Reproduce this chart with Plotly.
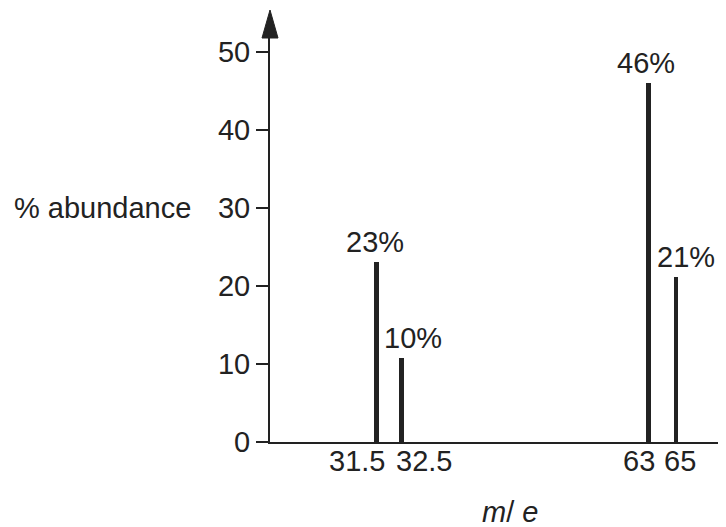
import plotly.graph_objects as go
from plotly.subplots import make_subplots

# Data
mass_to_charge = [31.5, 32.5, 63, 65]
abundance = [23, 10.7, 46, 21.2]
peak_labels = ["23%", "10%", "46%", "21%"]
tick_labels = ["31.5", "32.5", "63", "65"]
y_ticks = [0, 10, 20, 30, 40, 50]

# Styling / layout (page has an 8px body margin)
INK = "#222222"
FONT = "Liberation Sans, Arial, sans-serif"
FS = 29
W, H = 718, 519
L, R, T, B = 262, 0, 30, 85
split_px = 517
plot_w = W - L - R
plot_h = H - T - B
split = (split_px - L) / plot_w

left_idx = [0, 1]
right_idx = [2, 3]
label_xshift = [-2, 11, -2, 10]
tick_xshift = [-20, 22, -9, 4]

fig = make_subplots(rows=1, cols=2, shared_yaxes=True, horizontal_spacing=0,
                    column_widths=[split, 1 - split])

fig.add_trace(go.Bar(x=[mass_to_charge[i] for i in left_idx],
                     y=[abundance[i] for i in left_idx],
                     width=0.2, marker=dict(color=INK, line=dict(width=0)),
                     showlegend=False, hoverinfo="skip"), row=1, col=1)
fig.add_trace(go.Bar(x=[mass_to_charge[i] for i in right_idx],
                     y=[abundance[i] for i in right_idx],
                     width=0.36, marker=dict(color=INK, line=dict(width=0)),
                     showlegend=False, hoverinfo="skip"), row=1, col=2)

fig.update_xaxes(row=1, col=1, range=[27.23, 37.43], showticklabels=False,
                 ticks="", showgrid=False, zeroline=False,
                 showline=True, linecolor=INK, linewidth=2)
fig.update_xaxes(row=1, col=2, range=[54.1, 68.61], showticklabels=False,
                 ticks="", showgrid=False, zeroline=False,
                 showline=True, linecolor=INK, linewidth=2)
fig.update_yaxes(row=1, col=1, range=[0, 51.76], tickvals=y_ticks,
                 ticks="outside", ticklen=12, tickwidth=2, tickcolor=INK,
                 showgrid=False, zeroline=False, showline=True,
                 linecolor=INK, linewidth=2,
                 tickfont=dict(family=FONT, size=FS, color=INK))
fig.update_yaxes(row=1, col=2, showgrid=False, zeroline=False, showline=False,
                 ticks="", showticklabels=False)

for i in range(len(mass_to_charge)):
    xr = "x" if i in left_idx else "x2"
    fig.add_annotation(x=mass_to_charge[i], y=abundance[i], xref=xr, yref="y",
                       text=peak_labels[i], showarrow=False, yanchor="bottom",
                       xanchor="center", xshift=label_xshift[i], yshift=2,
                       font=dict(family=FONT, size=FS, color=INK))
    fig.add_annotation(x=mass_to_charge[i], y=0, xref=xr, yref="y",
                       text=tick_labels[i], showarrow=False, yanchor="top",
                       xanchor="center", xshift=tick_xshift[i], yshift=-1,
                       font=dict(family=FONT, size=FS, color=INK))

fig.add_annotation(x=(185 - L) / plot_w, y=30, xref="paper", yref="y",
                   text="% abundance", showarrow=False, xanchor="right",
                   yanchor="middle", font=dict(family=FONT, size=FS, color=INK))
fig.add_annotation(x=(502 - L) / plot_w, y=-(504 - (H - B)) / plot_h,
                   xref="paper", yref="paper", text="<i>m</i>/ <i>e</i>",
                   showarrow=False, xanchor="center", yanchor="middle",
                   height=26, valign="middle",
                   font=dict(family=FONT, size=FS, color=INK))

# arrow head on the y axis
fig.add_shape(type="path", xref="paper", yref="paper", xsizemode="pixel",
              ysizemode="pixel", xanchor=0, yanchor=1,
              path="M -8,0 L 8,0 L 0,28 Z", fillcolor=INK,
              line=dict(color=INK, width=1))

fig.update_layout(width=W, height=H, margin=dict(l=L, r=R, t=T, b=B),
                  plot_bgcolor="white", paper_bgcolor="white", bargap=0)

fig.write_html("out.html")
